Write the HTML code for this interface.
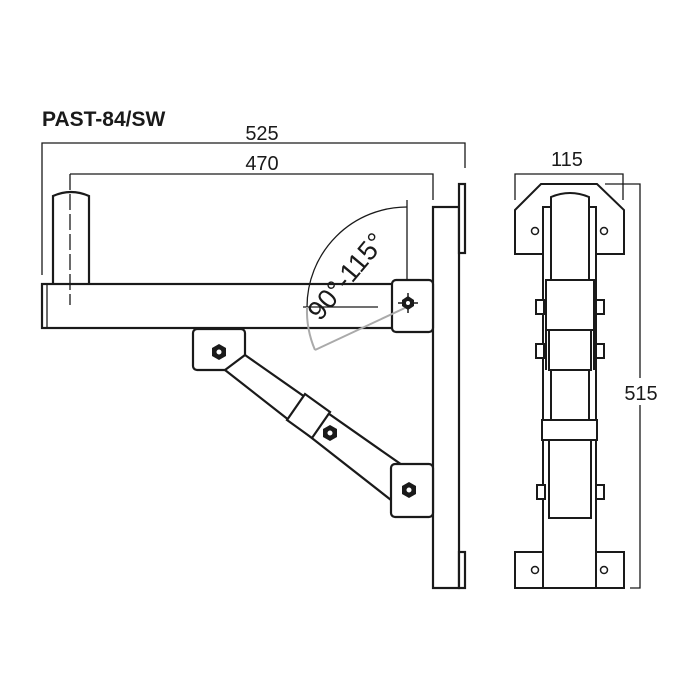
<!DOCTYPE html>
<html><head><style>body{margin:0;background:#fff}svg{display:block}</style></head><body>
<svg width="700" height="700" viewBox="0 0 700 700" xmlns="http://www.w3.org/2000/svg" font-family="Liberation Sans, sans-serif">
<rect width="700" height="700" fill="#fff"/>
<g stroke="#1a1a1a" fill="none" stroke-width="1.3">
<text x="42" y="126" font-size="21" font-weight="bold" fill="#1a1a1a" stroke="none">PAST-84/SW</text>
<text x="262" y="140" font-size="20" text-anchor="middle" fill="#1a1a1a" stroke="none">525</text>
<text x="262" y="170" font-size="20" text-anchor="middle" fill="#1a1a1a" stroke="none">470</text>
<polyline points="42,275 42,143 465,143 465,168"/>
<polyline points="433,200 433,174 70,174"/>
</g>
<g stroke="#1a1a1a" fill="#fff" stroke-width="2.2">
<path d="M53,284 V196 Q71,188 89,196 V284"/>
<rect x="42" y="284" width="352" height="44"/>
<line x1="47" y1="284" x2="47" y2="328" stroke-width="1.3"/>
<rect x="433" y="207" width="26" height="381"/>
<rect x="459" y="184" width="6" height="69"/>
<rect x="459" y="552" width="6" height="36"/>
<rect x="392" y="280" width="41" height="52" rx="4"/>
<rect x="193" y="329" width="52" height="41" rx="4"/>
<polygon points="245,355 402,465 391,500 225,370"/>
<polygon points="287,420 305,394 330,412 312,438"/>
<rect x="391" y="464" width="42" height="53" rx="4"/>
</g>
<line x1="70" y1="174" x2="70" y2="305" stroke="#1a1a1a" stroke-width="1.3" stroke-dasharray="16,4"/>
<g stroke="#1a1a1a" fill="none" stroke-width="1.3">
<line x1="407" y1="200" x2="407" y2="280"/>
<path d="M407,207 A100,100 0 0 0 307,307"/>
<line x1="303" y1="307" x2="378" y2="307"/>
</g>
<g stroke="#aaa" fill="none" stroke-width="2">
<path d="M307,307 A100,100 0 0 0 315,350"/>
<line x1="315" y1="350" x2="407" y2="307"/>
</g>
<text x="0" y="0" font-size="27" fill="#1a1a1a" transform="translate(320,322) rotate(-50)">90°-115°</text>
<g fill="#1a1a1a">
<polygon points="408,296 414,300 414,306 408,310 402,306 402,300"/>
<line x1="398" y1="303" x2="418" y2="303" stroke="#1a1a1a" stroke-width="1.5"/>
<line x1="408" y1="293" x2="408" y2="313" stroke="#1a1a1a" stroke-width="1.5"/>
<polygon points="219,344 226,348 226,356 219,360 212,356 212,348"/>
<polygon points="330,425 337,429 337,437 330,441 323,437 323,429"/>
<polygon points="409,482 416,486 416,494 409,498 402,494 402,486"/>
</g>
<g fill="#fff" stroke="#1a1a1a" stroke-width="1"><circle cx="219" cy="352" r="3"/><circle cx="330" cy="433" r="3"/><circle cx="409" cy="490" r="3"/><circle cx="408" cy="303" r="2.5"/></g>
<!-- right view -->
<g stroke="#1a1a1a" fill="none" stroke-width="1.3">
<text x="567" y="166" font-size="20" text-anchor="middle" fill="#1a1a1a" stroke="none">115</text>
<polyline points="515,200 515,174 623,174 623,200"/>
<polyline points="605,184 640,184 640,378"/>
<polyline points="640,405 640,588 630,588"/>
<text x="641" y="400" font-size="20" text-anchor="middle" fill="#1a1a1a" stroke="none">515</text>
</g>
<g stroke="#1a1a1a" fill="#fff" stroke-width="2">
<polygon points="515,210 541,184 597,184 624,210 624,254 515,254"/>
<rect x="515" y="552" width="109" height="36"/>
<rect x="543" y="207" width="53" height="381"/>
<path d="M551,283 V197 Q570,189 589,197 V283"/>
<rect x="536" y="300" width="8" height="14"/><rect x="596" y="300" width="8" height="14"/>
<rect x="536" y="344" width="8" height="14"/><rect x="596" y="344" width="8" height="14"/>
<rect x="537" y="485" width="8" height="14"/><rect x="596" y="485" width="8" height="14"/>
<rect x="546" y="280" width="48" height="50"/>
<rect x="549" y="330" width="42" height="40"/>
<rect x="551" y="370" width="38" height="50"/>
<rect x="542" y="420" width="55" height="20"/>
<rect x="549" y="440" width="42" height="78"/>
<line x1="546" y1="330" x2="546" y2="370"/><line x1="594" y1="330" x2="594" y2="370"/>
</g>
<g fill="#fff" stroke="#1a1a1a" stroke-width="1.5"><circle cx="535" cy="231" r="3.5"/><circle cx="604" cy="231" r="3.5"/><circle cx="535" cy="570" r="3.5"/><circle cx="604" cy="570" r="3.5"/></g>
</svg>
</body></html>
